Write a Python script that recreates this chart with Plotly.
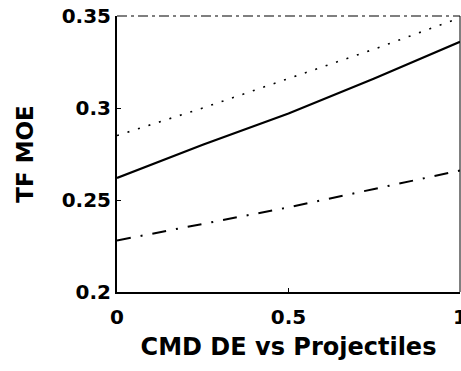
import plotly.graph_objects as go

x_vals = [0.0, 0.25, 0.5, 0.75, 1.0]
solid_vals = [0.262, 0.280, 0.297, 0.316, 0.336]
dotted_vals = [0.285, 0.300, 0.316, 0.332, 0.349]
dashdot_vals = [0.228, 0.237, 0.246, 0.256, 0.266]

x_ticks = [0, 0.5, 1]
x_tick_labels = ["0", "0.5", "1"]
y_ticks = [0.2, 0.25, 0.3, 0.35]
y_tick_labels = ["0.2", "0.25", "0.3", "0.35"]

FONT = "DejaVu Sans"

fig = go.Figure()
fig.add_trace(go.Scatter(x=x_vals, y=dotted_vals, mode="lines",
                         line=dict(color="black", width=1.6, dash="2px,9px"), showlegend=False))
fig.add_trace(go.Scatter(x=x_vals, y=solid_vals, mode="lines",
                         line=dict(color="black", width=2.2), showlegend=False))
fig.add_trace(go.Scatter(x=x_vals, y=dashdot_vals, mode="lines",
                         line=dict(color="black", width=2, dash="14px,10px,2px,10px"), showlegend=False))

# frame (top dashed, right solid)
fig.add_shape(type="line", xref="paper", yref="paper", x0=0, x1=1, y0=1, y1=1,
              line=dict(color="black", width=1.2, dash="10px,4px,3px,4px"))
fig.add_shape(type="line", xref="paper", yref="paper", x0=1, x1=1, y0=0, y1=1,
              line=dict(color="black", width=1))

fig.update_layout(
    width=461, height=371,
    margin=dict(l=117, r=1, t=16, b=79),
    paper_bgcolor="white", plot_bgcolor="white",
    font=dict(family=FONT, color="black", size=19, weight="bold"),
    xaxis=dict(range=[0, 1], tickvals=x_ticks, ticktext=x_tick_labels,
               showgrid=False, zeroline=False, showline=True, linecolor="black", linewidth=2,
               ticks="inside", ticklen=4, tickcolor="black", automargin=False,
               ticklabeloverflow="allow", ticklabelstandoff=6,
               tickfont=dict(family=FONT, size=20, weight="bold"),
               title=dict(text="CMD DE vs Projectiles", font=dict(family=FONT, size=24, weight="bold"),
                          standoff=10)),
    yaxis=dict(range=[0.2, 0.35], tickvals=y_ticks, ticktext=y_tick_labels,
               showgrid=False, zeroline=False, showline=True, linecolor="black", linewidth=2,
               ticks="inside", ticklen=4, tickcolor="black", automargin=False,
               tickfont=dict(family=FONT, size=20, weight="bold"),
               title=dict(text="TF MOE", font=dict(family=FONT, size=23, weight="bold"),
                          standoff=22)),
)
fig.write_html("out.html")
